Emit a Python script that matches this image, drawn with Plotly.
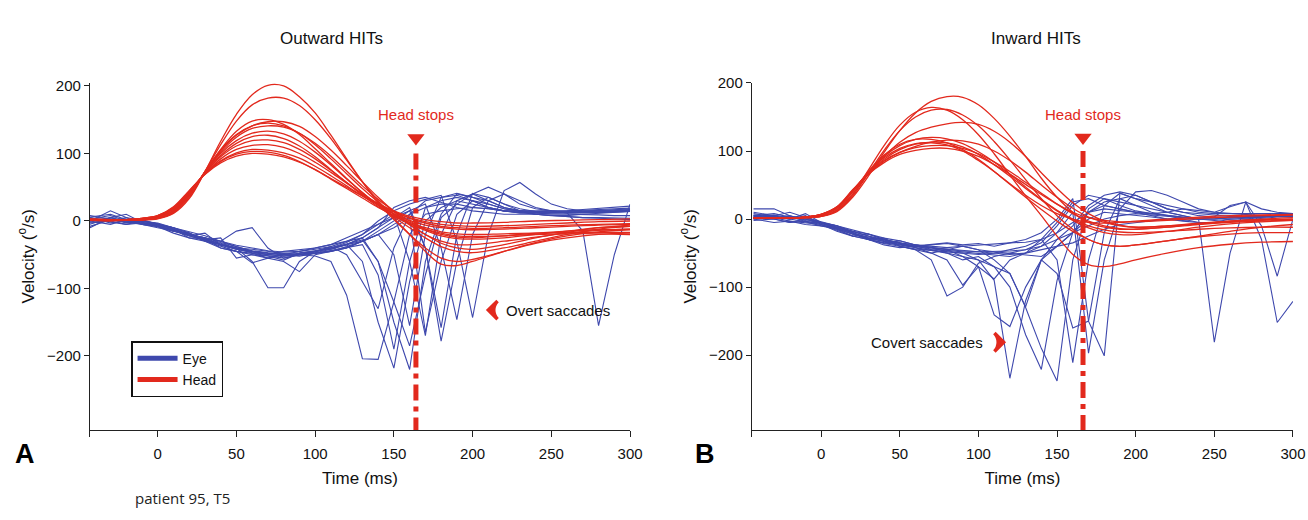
import plotly.graph_objects as go

# ---------------- data ----------------
HEAD_T = [-43, -30, -20, -10, 0, 10, 20, 30, 40, 50, 60, 70, 80, 90, 100, 110, 120, 130, 140, 150,
          160, 170, 180, 190, 200, 220, 240, 260, 280, 300]
EYE_T = [-43, -30, -20, -10, 0, 10, 20, 30, 40, 50, 60, 70, 80, 90, 100, 110, 120, 130, 140, 150,
         160, 170, 180, 190, 200, 210, 220, 230, 240, 250, 260, 270, 280, 290, 300]

HEAD_OUT = [
    [1, 0, 1, 1, 3, 11, 33, 73, 118, 158, 187, 201, 200, 184, 160, 127, 92, 58, 27, 2, -20, -40, -55, -60, -57, -45, -33, -25, -20, -18],
    [1, 1, 1, 2, 4, 12, 35, 73, 113, 148, 172, 182, 182, 171, 150, 122, 90, 58, 30, 4, -20, -45, -64, -66, -60, -45, -32, -22, -16, -13],
    [2, 1, 1, 2, 5, 14, 38, 73, 106, 133, 148, 150, 143, 128, 107, 85, 63, 42, 23, 6, -10, -25, -38, -45, -47, -40, -30, -20, -12, -8],
    [1, 1, 1, 2, 4, 13, 37, 72, 104, 127, 141, 147, 147, 140, 125, 105, 82, 58, 35, 14, -5, -20, -33, -40, -42, -35, -25, -17, -10, -6],
    [2, 1, 1, 2, 5, 15, 39, 72, 102, 124, 137, 141, 139, 130, 115, 96, 74, 52, 32, 15, 0, -12, -20, -24, -25, -22, -18, -15, -13, -12],
    [2, 1, 1, 3, 6, 16, 40, 72, 100, 119, 130, 133, 129, 118, 102, 83, 62, 42, 24, 10, -2, -10, -16, -19, -20, -19, -18, -17, -17, -17],
    [2, 2, 2, 3, 6, 17, 41, 71, 97, 115, 125, 127, 122, 111, 95, 76, 57, 38, 21, 7, -4, -12, -18, -22, -23, -22, -20, -19, -19, -20],
    [2, 2, 2, 3, 7, 18, 42, 71, 95, 111, 119, 120, 116, 106, 92, 75, 57, 40, 24, 11, 1, -6, -10, -12, -13, -12, -10, -8, -6, -5],
    [2, 2, 2, 3, 7, 19, 43, 70, 92, 106, 112, 113, 109, 100, 87, 72, 56, 40, 26, 14, 4, -3, -8, -10, -11, -10, -8, -6, -5, -4],
    [2, 2, 2, 4, 8, 20, 44, 70, 89, 101, 106, 105, 101, 93, 81, 67, 52, 37, 24, 13, 5, -1, -5, -7, -8, -7, -5, -3, -1, 0],
    [3, 2, 2, 4, 8, 20, 44, 69, 88, 99, 103, 102, 97, 88, 76, 62, 48, 34, 20, 8, -4, -14, -22, -26, -27, -25, -20, -15, -10, -8],
    [3, 2, 2, 4, 8, 21, 45, 69, 86, 96, 100, 99, 95, 87, 76, 63, 50, 37, 25, 15, 7, 2, -1, -3, -3, -2, 0, 1, 2, 3],
    [1, 1, 1, 2, 5, 14, 38, 73, 105, 128, 141, 145, 141, 130, 113, 92, 70, 48, 28, 10, -6, -20, -30, -35, -35, -30, -24, -18, -14, -12],
]

HEAD_IN = [
    [1, 1, 1, 2, 4, 11, 32, 63, 98, 130, 156, 173, 180, 179, 168, 148, 122, 92, 60, 32, 10, -5, -12, -15, -15, -12, -8, -5, -3, -2],
    [1, 1, 1, 2, 4, 13, 36, 72, 108, 138, 157, 164, 160, 146, 124, 96, 65, 34, 5, -25, -52, -67, -70, -66, -60, -50, -42, -37, -34, -33],
    [1, 1, 1, 2, 4, 12, 34, 67, 101, 130, 150, 160, 161, 153, 137, 114, 87, 58, 30, 5, -15, -30, -38, -40, -38, -32, -26, -22, -20, -20],
    [1, 1, 1, 2, 5, 14, 37, 66, 92, 113, 127, 135, 140, 142, 139, 129, 113, 92, 68, 45, 24, 8, -3, -9, -12, -10, -6, -3, -1, 0],
    [2, 2, 2, 3, 6, 16, 40, 70, 94, 110, 117, 117, 112, 102, 88, 70, 51, 32, 14, -3, -18, -30, -38, -40, -38, -32, -25, -18, -12, -8],
    [2, 2, 2, 3, 6, 17, 41, 66, 85, 98, 107, 113, 116, 115, 110, 100, 86, 69, 50, 32, 16, 3, -5, -10, -12, -10, -7, -4, -2, 0],
    [2, 2, 2, 3, 7, 17, 42, 68, 88, 102, 110, 113, 112, 106, 95, 80, 63, 45, 28, 12, -2, -13, -20, -23, -23, -18, -12, -7, -4, -2],
    [2, 2, 2, 3, 7, 18, 42, 67, 86, 98, 105, 108, 108, 104, 96, 84, 70, 54, 38, 22, 8, -3, -10, -14, -15, -12, -7, -3, 0, 2],
    [2, 2, 2, 3, 7, 18, 43, 66, 83, 95, 101, 104, 104, 100, 92, 80, 66, 51, 36, 22, 10, 2, -2, -4, -4, -2, 1, 3, 5, 6],
    [2, 2, 2, 3, 7, 17, 41, 68, 90, 104, 111, 112, 109, 100, 86, 70, 52, 35, 20, 8, 0, -5, -6, -5, -3, 0, 3, 5, 6, 7],
    [2, 2, 2, 3, 6, 16, 40, 68, 92, 108, 117, 120, 118, 111, 99, 84, 66, 47, 29, 13, 0, -10, -16, -19, -20, -18, -15, -13, -12, -12],
]

EYE_OUT = [
    [-5, 5, -2, 0, -6, -15, -22, -18, -36, -42, -45, -48, -50, -50, -52, -60, -110, -204, -205, -120, -20, 10, 15, 18, 20, 18, 15, 14, 10, 8, 6, 5, 5, 4, 4],
    [3, 8, 0, -3, -8, -14, -20, -28, -25, -55, -50, -52, -58, -48, -45, -40, -35, -60, -150, -218, -90, 0, 20, 30, 25, 20, 15, 12, 12, 12, 13, 14, 14, 15, 15],
    [0, 15, 5, 0, -4, -12, -25, -30, -35, -40, -45, -50, -45, -42, -40, -35, -30, -25, -60, -150, -220, -60, 10, 40, 35, 25, 18, 15, 14, 14, 15, 17, 19, 20, 22],
    [-10, 5, 10, -2, -8, -18, -25, -26, -40, -45, -48, -52, -55, -50, -45, -38, -30, -20, -5, 10, -60, -170, -20, 30, 40, 30, 20, 15, 12, 12, 12, 12, 13, 14, 15],
    [5, 0, -5, -3, -5, -10, -22, -30, -38, -45, -62, -55, -50, -45, -40, -35, -25, -15, -5, 5, 20, -40, -178, -60, 20, 35, 25, 15, 10, 8, 6, 5, 4, 3, 2],
    [2, 3, 0, -5, -10, -15, -20, -25, -30, -38, -45, -48, -50, -52, -48, -45, -38, -30, -15, 0, 15, 25, -40, -146, -20, 30, 40, 30, 20, 15, 12, 12, 12, 13, 14],
    [8, 3, -3, 0, -5, -10, -18, -28, -33, -40, -42, -45, -48, -47, -45, -42, -35, -30, -20, -50, -155, -20, 35, 41, 35, 30, 20, 15, 12, 10, 10, 10, 9, 8, 8],
    [0, -5, 2, -2, -6, -15, -18, -28, -35, -40, -60, -99, -99, -60, -45, -40, -35, -25, -10, 20, 30, 35, 28, 20, 15, 12, 10, 10, 10, 12, 12, 13, 13, 14, 15],
    [-3, 0, 5, -5, -8, -15, -20, -25, -30, -15, -10, -40, -55, -50, -48, -45, -40, -30, -20, -5, 10, 20, 25, 25, 20, 18, 15, 15, 15, 15, 12, -15, -155, -50, 25],
    [5, -3, 0, 2, -5, -12, -20, -25, -35, -40, -48, -55, -60, -75, -50, -45, -40, -30, -20, -10, 5, -165, -60, 10, 30, 25, 18, 15, 14, 14, 15, 16, 17, 18, 19],
    [-8, 2, -2, -5, -8, -14, -22, -28, -35, -42, -47, -50, -52, -50, -46, -40, -32, -20, 0, 15, 25, 32, 38, -30, -143, -20, 45, 57, 40, 25, 18, 15, 15, 16, 17],
    [0, 5, 0, -3, -7, -13, -20, -27, -34, -42, -46, -50, -52, -49, -47, -42, -35, -25, -10, 5, 15, -40, -158, -20, 41, 35, 25, 18, 14, 12, 12, 12, 13, 14, 15],
    [3, -2, -5, 0, -4, -10, -18, -30, -40, -45, -50, -55, -50, -48, -44, -40, -34, -28, -60, -120, -185, -80, 5, 25, 40, 50, 40, 25, 18, 15, 14, 14, 15, 15, 16],
    [-2, 0, 3, -4, -6, -12, -20, -25, -32, -38, -44, -47, -49, -50, -48, -44, -40, -35, -80, -190, -60, 20, 30, 35, 30, 20, 15, 12, 10, 8, 8, 10, 11, 12, 14],
    [6, 10, 2, 0, -3, -10, -16, -22, -30, -36, -40, -44, -46, -45, -42, -38, -50, -90, -130, -40, 10, 30, 35, 38, 30, 20, 15, 12, 12, 12, 13, 14, 15, 16, 18],
]

EYE_IN = [
    [8, 3, 0, 5, -8, -15, -25, -30, -35, -38, -42, -45, -50, -55, -60, -90, -234, -120, -60, -40, -20, 10, 20, 15, 10, 5, 0, -3, -5, -5, -3, 0, 2, 3, 3],
    [0, 5, 10, 2, -5, -12, -20, -28, -30, -35, -40, -45, -50, -60, -55, -70, -100, -170, -221, -90, -20, 10, 25, 30, 20, 10, 5, 0, -5, -5, 0, 0, 3, 5, 5],
    [4, 2, -3, -5, -8, -18, -25, -22, -30, -40, -45, -50, -45, -40, -45, -60, -80, -130, -190, -238, -60, 15, 30, 25, 20, 15, 10, 5, 0, 0, 2, 4, 5, 5, 6],
    [10, 5, 0, 3, -5, -10, -20, -30, -35, -32, -38, -42, -48, -50, -52, -50, -45, -40, -30, -60, -211, -60, 20, 38, 30, 20, 10, 5, 0, 0, 3, 4, 5, 6, 6],
    [2, 0, -5, 0, -6, -14, -22, -28, -33, -37, -40, -44, -46, -48, -50, -52, -55, -50, -40, -20, 10, -197, -60, 15, 40, 42, 35, 25, 15, 10, 8, 6, 5, 5, 5],
    [5, 8, 3, -2, -5, -12, -20, -30, -38, -42, -40, -38, -35, -38, -36, -40, -35, -30, -20, 0, 30, -150, -201, 38, 30, 25, 20, 15, 10, 8, 8, 8, 8, 8, 8],
    [3, 0, -5, -3, -8, -16, -25, -30, -28, -40, -45, -60, -113, -100, -65, -55, -50, -45, -40, -30, -10, 20, 35, 40, 35, 25, 15, 10, 8, 5, 3, 2, 3, 4, 5],
    [0, 2, 5, -4, -10, -15, -22, -26, -30, -35, -42, -50, -60, -97, -70, -88, -60, -50, -30, -5, 25, 30, 20, 15, 10, 8, 5, 3, 2, 2, 3, 4, 5, 6, 6],
    [5, 3, 0, 8, -5, -12, -20, -28, -33, -38, -40, -42, -44, -46, -48, -50, -52, -50, -45, -40, -35, -25, -15, -8, -5, -2, 0, 2, 0, -181, -50, 25, 15, 10, 8],
    [15, 15, 5, 0, -5, -10, -18, -25, -30, -35, -38, -40, -42, -40, -38, -36, -35, -34, -30, -20, -5, 10, 15, 12, 10, 8, 10, 15, 12, 10, 18, 25, -10, -84, 0],
    [0, -5, -3, -8, -10, -12, -18, -22, -30, -36, -40, -38, -36, -40, -45, -48, -50, -52, -55, -40, -20, 0, 10, 8, 5, 3, 0, -2, 0, 3, 20, 25, -30, -152, -121],
    [6, 4, 0, -4, -6, -14, -22, -30, -36, -40, -44, -46, -48, -50, -60, -70, -80, -129, -60, -30, -20, -10, 0, 5, 8, 6, 4, 2, 0, 0, 2, 3, 4, 5, 5],
    [-2, 0, 4, 2, -4, -10, -16, -22, -28, -32, -38, -42, -45, -55, -70, -141, -158, -100, -60, -80, -160, -150, -20, 30, 35, 25, 15, 10, 5, 3, 2, 2, 3, 4, 5],
    [3, 6, 2, 0, -6, -12, -18, -25, -32, -36, -40, -42, -45, -47, -48, -48, -47, -45, -35, -10, 20, 35, 30, 20, 12, 8, 5, 2, 0, -2, 0, 2, 3, 4, 4],
]

HEAD_STOP = [164, 166.5]          # ms, left / right panel
HEAD_STOP_TOP = [100, 100]        # deg/s where dashed marker line starts
HEAD_STOP_MARK = [123, 120]       # triangle position
HEAD_STOP_LABEL = [157, 153]
OVERT_TIP = [210, -132]           # chevron tip (ms, deg/s)
OVERT_TEXT_X = 220
COVERT_TIP = [116, -181]
COVERT_TEXT_X = 104

X_TICKS = [0, 50, 100, 150, 200, 250, 300]
Y_TICKS = [-200, -100, 0, 100, 200]
X_RANGES = [[-43, 300], [-44, 300]]
Y_RANGES = [[-309.6, 205], [-310, 200.6]]

for arr in HEAD_OUT + HEAD_IN:
    assert len(arr) == len(HEAD_T), len(arr)
for arr in EYE_OUT + EYE_IN:
    assert len(arr) == len(EYE_T), len(arr)

BLUE = "#3e48ad"
RED = "#e2291d"
FONT = "Liberation Sans, Arial, Helvetica, sans-serif"

fig = go.Figure()

panels = [(EYE_OUT, HEAD_OUT, "x", "y"), (EYE_IN, HEAD_IN, "x2", "y2")]
for i, (eyes, heads, xa, ya) in enumerate(panels):
    for e in eyes:
        fig.add_trace(go.Scatter(x=EYE_T, y=e, mode="lines", xaxis=xa, yaxis=ya,
                                 line=dict(color=BLUE, width=1.1), showlegend=False,
                                 hoverinfo="skip"))
    for h in heads:
        fig.add_trace(go.Scatter(x=HEAD_T, y=h, mode="lines", xaxis=xa, yaxis=ya,
                                 line=dict(color=RED, width=1.3, shape="spline", smoothing=1.0),
                                 showlegend=False, hoverinfo="skip"))
    # head-stop dashed line
    fig.add_trace(go.Scatter(x=[HEAD_STOP[i], HEAD_STOP[i]],
                             y=[HEAD_STOP_TOP[i], Y_RANGES[i][0]],
                             mode="lines", xaxis=xa, yaxis=ya,
                             line=dict(color=RED, width=5, dash="16px,6px,5px,6px"),
                             showlegend=False, hoverinfo="skip"))
    fig.add_trace(go.Scatter(x=[HEAD_STOP[i]], y=[HEAD_STOP_MARK[i]], mode="markers",
                             xaxis=xa, yaxis=ya,
                             marker=dict(symbol="triangle-down", size=15, color=RED),
                             showlegend=False, hoverinfo="skip"))
    fig.add_annotation(x=HEAD_STOP[i], y=HEAD_STOP_LABEL[i], xref=xa, yref=ya,
                       text="Head stops", showarrow=False, xanchor="center",
                       font=dict(family=FONT, size=15, color=RED))

# saccade chevrons
fig.add_trace(go.Scatter(x=[OVERT_TIP[0]], y=[OVERT_TIP[1]], mode="markers", xaxis="x", yaxis="y",
                         marker=dict(symbol="arrow-wide", angle=-90, size=13, color=RED,
                                     line=dict(width=3.5, color=RED)),
                         showlegend=False, hoverinfo="skip"))
fig.add_annotation(x=OVERT_TEXT_X, y=OVERT_TIP[1], xref="x", yref="y", xanchor="left",
                   text="Overt saccades", showarrow=False,
                   font=dict(family=FONT, size=15, color="#111"))
fig.add_trace(go.Scatter(x=[COVERT_TIP[0]], y=[COVERT_TIP[1]], mode="markers", xaxis="x2", yaxis="y2",
                         marker=dict(symbol="arrow-wide", angle=90, size=13, color=RED,
                                     line=dict(width=3.5, color=RED)),
                         showlegend=False, hoverinfo="skip"))
fig.add_annotation(x=COVERT_TEXT_X, y=COVERT_TIP[1], xref="x2", yref="y2", xanchor="right",
                   text="Covert saccades", showarrow=False,
                   font=dict(family=FONT, size=15, color="#111"))

# legend entries
fig.add_trace(go.Scatter(x=[None], y=[None], mode="lines", name="Eye",
                         line=dict(color=BLUE, width=5)))
fig.add_trace(go.Scatter(x=[None], y=[None], mode="lines", name="Head",
                         line=dict(color=RED, width=5)))

def xaxis(domain, rng, anchor):
    return dict(domain=domain, range=rng, anchor=anchor, showline=True, linecolor="#222",
                linewidth=1.3, ticks="outside", ticklen=6, tickwidth=1.3, tickcolor="#222",
                tickvals=[rng[0]] + X_TICKS, ticktext=[" "] + [str(v) for v in X_TICKS],
                showgrid=False, zeroline=False, tickfont=dict(family=FONT, size=15, color="#111"),
                ticklabelstandoff=4, automargin=False,
                title=dict(text="Time (ms)", font=dict(family=FONT, size=17, color="#111"), standoff=10))

def yaxis(domain, rng, anchor):
    return dict(domain=domain, range=rng, anchor=anchor, showline=True, linecolor="#222",
                linewidth=1.3, ticks="outside", ticklen=5, tickwidth=1.3, tickcolor="#222",
                tickvals=Y_TICKS, ticktext=[str(v).replace("-", "\u2212") for v in Y_TICKS],
                showgrid=False, zeroline=False, tickfont=dict(family=FONT, size=15, color="#111"),
                automargin=False,
                title=dict(text="Velocity (<sup>o</sup>/s)", font=dict(family=FONT, size=17, color="#111"),
                           standoff=8))

YDOM = [0.1731, 0.8412]
fig.update_layout(
    width=1308, height=520,
    margin=dict(l=0, r=0, t=0, b=0),
    paper_bgcolor="white", plot_bgcolor="white",
    xaxis=xaxis([0.0688, 0.4817], X_RANGES[0], "y"),
    yaxis=yaxis(YDOM, Y_RANGES[0], "x"),
    xaxis2=xaxis([0.5749, 0.9885], X_RANGES[1], "y2"),
    yaxis2=yaxis(YDOM, Y_RANGES[1], "x2"),
    showlegend=True,
    legend=dict(x=0.1002, y=0.344, xanchor="left", yanchor="top", bordercolor="#111",
                borderwidth=1.5, bgcolor="white", font=dict(family=FONT, size=14, color="#111"),
                tracegroupgap=0, itemwidth=40),
    font=dict(family=FONT),
)

fig.add_annotation(x=331 / 1308, y=1 - 27 / 520, xref="paper", yref="paper", text="Outward HITs",
                   xanchor="center", showarrow=False, font=dict(family=FONT, size=17, color="#111"))
fig.add_annotation(x=1036 / 1308, y=1 - 27 / 520, xref="paper", yref="paper", text="Inward HITs",
                   xanchor="center", showarrow=False, font=dict(family=FONT, size=17, color="#111"))
fig.add_annotation(x=25 / 1308, y=1 - 471 / 520, xref="paper", yref="paper", text="<b>A</b>",
                   xanchor="center", showarrow=False, font=dict(family=FONT, size=27, color="#000"))
fig.add_annotation(x=705 / 1308, y=1 - 471 / 520, xref="paper", yref="paper", text="<b>B</b>",
                   xanchor="center", showarrow=False, font=dict(family=FONT, size=27, color="#000"))
fig.add_annotation(x=133 / 1308, y=1 - 510 / 520, xref="paper", yref="paper", xanchor="left",
                   text="patient 95, T5", showarrow=False,
                   font=dict(family="Open Sans, Noto Sans, sans-serif", size=15, color="#222"))

fig.write_html("out.html", config={"displayModeBar": False},
               post_script="document.body.style.margin='0';document.body.style.overflow='hidden';")
